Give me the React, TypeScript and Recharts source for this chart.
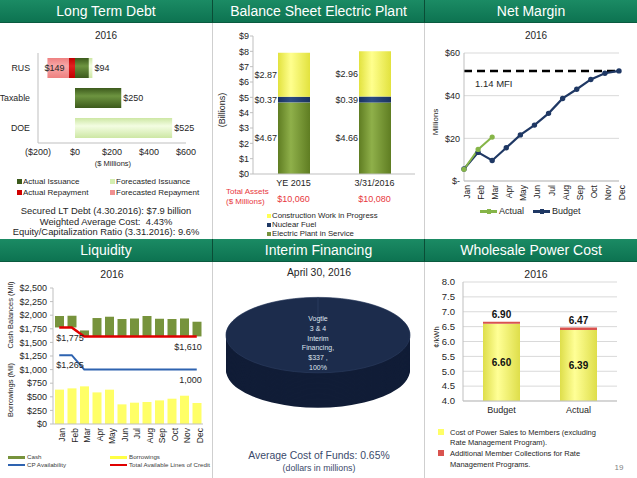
import React from "react";
import {
  BarChart,
  Bar,
  XAxis,
  YAxis,
  LabelList,
  LineChart,
  Line,
  CartesianGrid,
  ReferenceLine,
  ComposedChart,
  PieChart,
  Pie,
} from "recharts";

// ---- Long Term Debt ----
const debtCats = ["RUS", "Taxable", "DOE"];
const actualIssuance = [75, 250, 0];
const forecastIssuance = [19, 0, 525];
const actualRepayment = [-35, 0, 0];
const forecastRepayment = [-114, 0, 0];
const debtTicks = [-200, 0, 200, 400, 600];

// ---- Balance Sheet Electric Plant ----
const plantCats = ["YE 2015", "3/31/2016"];
const plantInService = [4.67, 4.66];
const nuclearFuel = [0.37, 0.39];
const cwip = [2.87, 2.96];
const totalAssets = ["$10,060", "$10,080"];
const plantTicks = [0, 1, 2, 3, 4, 5, 6, 7, 8, 9];

// ---- Net Margin ----
const months = ["Jan", "Feb", "Mar", "Apr", "May", "Jun", "Jul", "Aug", "Sep", "Oct", "Nov", "Dec"];
const marginActual = [5.5, 14.8, 20.6, null, null, null, null, null, null, null, null, null];
const marginBudget = [5.6, 13.4, 9.6, 15.6, 21.6, 26.2, 31.7, 38.7, 43.0, 47.6, 50.5, 51.6];
const mfiTarget = 51.6;
const marginTicks = [0, 20, 40, 60];

// ---- Liquidity ----
const cashBalances = [1985, 1990, 1720, 1948, 1972, 1930, 1940, 1985, 1935, 1930, 1940, 1880];
const creditLines = [1775, 1775, 1610, 1610, 1610, 1610, 1610, 1610, 1610, 1610, 1610, 1610];
const cpAvailability = [1265, 1265, 1000, 1000, 1000, 1000, 1000, 1000, 1000, 1000, 1000, 1000];
const borrowings = [632, 655, 692, 581, 631, 361, 392, 404, 434, 465, 520, 386];
const creditLabels = ["$1,775", "$1,610"];
const cpLabels = ["$1,265", "1,000"];
const liqTicks = [0, 250, 500, 750, 1000, 1250, 1500, 1750, 2000, 2250, 2500];

// ---- Interim Financing ----
const interimNameLines = ["Vogtle", "3 & 4", "Interim", "Financing"];
const interimValues = [337];

// ---- Wholesale Power Cost ----
const powerCats = ["Budget", "Actual"];
const powerCost = [6.6, 6.39];
const rmpCollections = [0.06, 0.08];
const powerTotals = ["6.90", "6.47"];
const powerTicks = [4, 4.5, 5, 5.5, 6, 6.5, 7, 7.5, 8];
const POWER_MIN = 4;

const debtData = debtCats.map((cat, i) => ({
  cat,
  ai: actualIssuance[i],
  fi: forecastIssuance[i],
  ar: actualRepayment[i],
  fr: forecastRepayment[i],
}));
const plantData = plantCats.map((cat, i) => ({
  cat,
  eps: plantInService[i],
  nf: nuclearFuel[i],
  cwip: cwip[i],
  assets: totalAssets[i],
}));
const marginData = months.map((m, i) => ({ m, actual: marginActual[i], budget: marginBudget[i] }));
const liqData = months.map((m, i) => ({
  m,
  cash: cashBalances[i],
  credit: creditLines[i],
  cp: cpAvailability[i],
  borrow: borrowings[i],
}));
const interimData = interimValues.map((v) => ({ name: interimNameLines.join(" "), value: v }));
const powerData = powerCats.map((cat, i) => ({ cat, cost: powerCost[i], rmp: rmpCollections[i] }));

const GRAY_AXIS = "#bfbfbf";
const TXT = "#262626";

function Txt({ x, y, size = 9, color = TXT, anchor = "middle", bold = false, rotate = false, children }: any) {
  const tx = anchor === "middle" ? "-50%" : anchor === "end" ? "-100%" : "0";
  return (
    <div
      style={{
        position: "absolute",
        left: x,
        top: y,
        fontSize: size,
        color,
        fontWeight: bold ? 700 : 400,
        whiteSpace: "pre",
        lineHeight: 1,
        transform: `translate(${tx}, -50%)${rotate ? " rotate(-90deg)" : ""}`,
      }}
    >
      {children}
    </div>
  );
}

function Box({ x, y, w, h, color }: any) {
  return <div style={{ position: "absolute", left: x, top: y, width: w, height: h, background: color }} />;
}

function Header({ x, y, w, title }: any) {
  return (
    <div
      style={{
        position: "absolute",
        left: x,
        top: y,
        width: w,
        height: 23,
        background: "linear-gradient(#1b8b64, #0d7351)",
        borderBottom: "1px solid #0a5a3f",
        borderLeft: x > 0 ? "1px solid #0a4d36" : "none",
        boxSizing: "border-box",
        color: "#fff",
        fontSize: 14,
        lineHeight: "23px",
        textAlign: "center",
      }}
    >
      {title}
    </div>
  );
}

function cylinder(id: string, edge: string, mid: string, vertical = false) {
  return (
    <linearGradient id={id} x1="0" y1="0" x2={vertical ? "0" : "1"} y2={vertical ? "1" : "0"}>
      <stop offset="0%" stopColor={edge} />
      <stop offset="40%" stopColor={mid} />
      <stop offset="100%" stopColor={edge} />
    </linearGradient>
  );
}

const money = (v: number) => (v < 0 ? `($${-v})` : `$${v}`);

function DebtChart() {
  // label on the outermost positive segment of each row
  const posLabel = (series: "ai" | "fi") => (p: any) => {
    const { x, y, width, height, value } = p;
    const i = debtCats.indexOf(value);
    if (i < 0) return null;
    if (series === "ai" && forecastIssuance[i] !== 0) return null;
    const total = actualIssuance[i] + forecastIssuance[i];
    return (
      <text x={x + width + 2} y={y + height / 2} dy="0.35em" fontSize={9} fill={TXT}>
        {`$${total}`}
      </text>
    );
  };
  const negLabel = (p: any) => {
    const { x, y, width, height, value } = p;
    const i = debtCats.indexOf(value);
    if (i < 0) return null;
    const total = -(actualRepayment[i] + forecastRepayment[i]);
    if (!total) return null;
    const left = Math.min(x, x + width);
    return (
      <text x={left - 3} y={y + height / 2} dy="0.35em" fontSize={9} fill={TXT}>
        {`$${total}`}
      </text>
    );
  };
  return (
    <div style={{ position: "absolute", left: 0, top: 45 }}>
      <BarChart
        layout="vertical"
        width={212}
        height={115}
        data={debtData}
        stackOffset="sign"
        barSize={20}
        margin={{ top: 8, right: 26, bottom: 0, left: 0 }}
      >
        <defs>
          {cylinder("ltdDark", "#3c5a1c", "#6d9440", true)}
          {cylinder("ltdLight", "#cde7a4", "#f3fde2", true)}
          {cylinder("ltdRed", "#c00000", "#e02020", true)}
          {cylinder("ltdPink", "#ee8080", "#f7a8a8", true)}
        </defs>
        <XAxis
          type="number"
          domain={[-200, 600]}
          ticks={debtTicks}
          tickFormatter={money}
          tick={{ fontSize: 9, fill: TXT }}
          tickLine={false}
          tickSize={4}
          axisLine={{ stroke: GRAY_AXIS }}
          height={17}
        />
        <YAxis
          type="category"
          dataKey="cat"
          width={38}
          tick={{ fontSize: 8.8, fill: TXT }}
          tickLine={false}
          axisLine={{ stroke: GRAY_AXIS }}
        />
        <Bar dataKey="ai" stackId="s" fill="url(#ltdDark)" isAnimationActive={false}>
          <LabelList dataKey="cat" content={posLabel("ai")} />
        </Bar>
        <Bar dataKey="fi" stackId="s" fill="url(#ltdLight)" isAnimationActive={false}>
          <LabelList dataKey="cat" content={posLabel("fi")} />
        </Bar>
        <Bar dataKey="ar" stackId="s" fill="url(#ltdRed)" isAnimationActive={false} />
        <Bar dataKey="fr" stackId="s" fill="url(#ltdPink)" isAnimationActive={false}>
          <LabelList dataKey="cat" content={negLabel} />
        </Bar>
      </BarChart>
    </div>
  );
}

function PlantChart() {
  const sideLabel = (arr: number[]) => (p: any) => {
    const { x, y, height, value } = p;
    const i = plantCats.indexOf(value);
    if (i < 0) return null;
    return (
      <text x={x - 1} y={y + height / 2} dy="0.35em" textAnchor="end" fontSize={9} fill={TXT}>
        {`$${arr[i].toFixed(2)}`}
      </text>
    );
  };
  return (
    <div style={{ position: "absolute", left: 212, top: 28 }}>
      <BarChart
        width={212}
        height={180}
        data={plantData}
        barSize={32}
        margin={{ top: 8, right: 9, bottom: 0, left: 0 }}
      >
        <defs>
          {cylinder("bsGreen", "#5f7d22", "#8fb04a")}
          {cylinder("bsNavy", "#1a3260", "#2e4d85")}
          {cylinder("bsYellow", "#e2e23e", "#ffff8e")}
        </defs>
        <XAxis
          dataKey="cat"
          tick={{ fontSize: 9, fill: TXT }}
          tickLine={false}
          tickSize={4}
          axisLine={{ stroke: GRAY_AXIS }}
          height={20}
        />
        <XAxis
          xAxisId="assets"
          dataKey="assets"
          tick={{ fontSize: 9, fill: "#e8383d" }}
          tickLine={false}
          tickSize={0}
          axisLine={false}
          height={14}
        />
        <YAxis
          domain={[0, 9]}
          ticks={plantTicks}
          interval={0}
          tickFormatter={(v) => `$${v}`}
          tick={{ fontSize: 9, fill: TXT }}
          tickSize={3}
          tickMargin={1}
          tickLine={{ stroke: GRAY_AXIS }}
          axisLine={{ stroke: GRAY_AXIS }}
          width={41}
        />
        <Bar dataKey="eps" stackId="p" fill="url(#bsGreen)" isAnimationActive={false}>
          <LabelList dataKey="cat" content={sideLabel(plantInService)} />
        </Bar>
        <Bar dataKey="nf" stackId="p" fill="url(#bsNavy)" isAnimationActive={false}>
          <LabelList dataKey="cat" content={sideLabel(nuclearFuel)} />
        </Bar>
        <Bar dataKey="cwip" stackId="p" fill="url(#bsYellow)" isAnimationActive={false}>
          <LabelList dataKey="cat" content={sideLabel(cwip)} />
        </Bar>
      </BarChart>
    </div>
  );
}

function MarginChart() {
  return (
    <div style={{ position: "absolute", left: 424, top: 45 }}>
      <LineChart width={213} height={165} data={marginData} margin={{ top: 8, right: 18, bottom: 0, left: 0 }}>
        <CartesianGrid vertical={false} stroke="#d9d9d9" />
        <XAxis
          dataKey="m"
          interval={0}
          tick={{ fontSize: 8.5, fill: TXT, angle: -90, textAnchor: "end", verticalAnchor: "middle" } as any}
          tickLine={false}
          tickSize={0}
          tickMargin={4}
          axisLine={{ stroke: GRAY_AXIS }}
          height={29}
        />
        <YAxis
          domain={[0, 60]}
          ticks={marginTicks}
          interval={0}
          tickFormatter={(v) => (v === 0 ? "$-" : `$${v}`)}
          tick={{ fontSize: 9, fill: TXT }}
          tickLine={false}
          tickSize={2}
          tickMargin={2}
          axisLine={{ stroke: GRAY_AXIS }}
          width={40}
        />
        <ReferenceLine
          segment={[
            { x: "Jan", y: mfiTarget },
            { x: "Dec", y: mfiTarget },
          ]}
          stroke="#000"
          strokeWidth={2.5}
          strokeDasharray="8 5"
        />
        <Line
          dataKey="budget"
          stroke="#1f3864"
          strokeWidth={2.2}
          dot={{ r: 1.6, fill: "#1f3864", stroke: "#1f3864" }}
          isAnimationActive={false}
        />
        <Line
          dataKey="actual"
          stroke="#86b548"
          strokeWidth={2}
          dot={{ r: 1.6, fill: "#86b548", stroke: "#86b548" }}
          isAnimationActive={false}
        />
      </LineChart>
    </div>
  );
}

function LiquidityChart() {
  const endLabels = (labels: string[]) => (p: any) => {
    const { x, y, index } = p;
    const last = months.length - 1;
    if (index !== 0 && index !== last) return null;
    return (
      <text
        x={index === 0 ? x - 3 : x + 5}
        y={y + 10}
        dy="0.35em"
        textAnchor={index === 0 ? "start" : "end"}
        fontSize={9}
        fill={TXT}
      >
        {index === 0 ? labels[0] : labels[1]}
      </text>
    );
  };
  return (
    <div style={{ position: "absolute", left: 0, top: 280 }}>
      <ComposedChart width={212} height={172} data={liqData} margin={{ top: 8, right: 9, bottom: 0, left: 0 }}>
        <XAxis
          xAxisId="a"
          dataKey="m"
          interval={0}
          tick={{ fontSize: 8.5, fill: TXT, angle: -90, textAnchor: "end", verticalAnchor: "middle" } as any}
          tickLine={false}
          tickSize={0}
          tickMargin={4}
          axisLine={{ stroke: GRAY_AXIS }}
          height={28}
        />
        <XAxis xAxisId="b" dataKey="m" hide />
        <YAxis
          domain={[0, 2500]}
          ticks={liqTicks}
          interval={0}
          tickFormatter={(v) => `$${v.toLocaleString("en-US")}`}
          tick={{ fontSize: 9, fill: TXT }}
          tickSize={3}
          tickMargin={3}
          tickLine={{ stroke: GRAY_AXIS }}
          axisLine={{ stroke: GRAY_AXIS }}
          width={53}
        />
        <Bar
          xAxisId="a"
          dataKey={(d: any) => [d.credit, d.cash]}
          barSize={9}
          fill="#77933c"
          isAnimationActive={false}
        />
        <Bar xAxisId="b" dataKey="borrow" barSize={9} fill="#ffff66" isAnimationActive={false} />
        <Line
          xAxisId="a"
          dataKey="cp"
          stroke="#2e63b0"
          strokeWidth={2}
          dot={false}
          isAnimationActive={false}
        >
          <LabelList content={endLabels(cpLabels)} />
        </Line>
        <Line
          xAxisId="a"
          dataKey="credit"
          stroke="#e00000"
          strokeWidth={2.5}
          dot={false}
          isAnimationActive={false}
        >
          <LabelList content={endLabels(creditLabels)} />
        </Line>
      </ComposedChart>
    </div>
  );
}

function InterimChart() {
  // elliptical disc: stack of pies squashed vertically
  const layers: number[] = [];
  for (let cy = 195; cy > 110; cy -= 3) layers.push(cy);
  const total = interimValues.reduce((a, b) => a + b, 0);
  const lines = [
    ...interimNameLines.slice(0, -1),
    `${interimNameLines[interimNameLines.length - 1]},`,
    `$${interimValues[0]} ,`,
    `${Math.round((interimValues[0] / total) * 100)}%`,
  ];
  return (
    <>
      <div
        style={{
          position: "absolute",
          left: 218,
          top: 290,
          width: 200,
          height: 292,
          transform: "scaleY(0.41)",
          transformOrigin: "top left",
        }}
      >
        <PieChart width={200} height={292} margin={{ top: 0, right: 0, bottom: 0, left: 0 }}>
          {layers.map((cy) => (
            <Pie
              key={cy}
              data={interimData}
              dataKey="value"
              cx={100}
              cy={cy}
              outerRadius={92}
              startAngle={90}
              endAngle={-270}
              fill="#111d37"
              stroke="none"
              isAnimationActive={false}
            />
          ))}
          <Pie
            data={interimData}
            dataKey="value"
            cx={100}
            cy={110}
            outerRadius={92}
            startAngle={90}
            endAngle={-270}
            fill="#1c2c4c"
            stroke="#2a3a5c"
            isAnimationActive={false}
          />
        </PieChart>
      </div>
      {lines.map((t, i) => (
        <Txt key={i} x={318} y={318 + i * 9.8} size={7} color="#dfe4ee">
          {t}
        </Txt>
      ))}
    </>
  );
}

function PowerChart() {
  const midLabel = (p: any) => {
    const { x, y, width, height, value } = p;
    const i = powerCats.indexOf(value);
    if (i < 0) return null;
    return (
      <text x={x + width / 2} y={y + height / 2} dy="0.35em" textAnchor="middle" fontSize={10} fontWeight={700} fill="#111">
        {powerCost[i].toFixed(2)}
      </text>
    );
  };
  const topLabel = (p: any) => {
    const { x, y, width, value } = p;
    const i = powerCats.indexOf(value);
    if (i < 0) return null;
    return (
      <text x={x + width / 2} y={y - 4} textAnchor="middle" fontSize={10} fontWeight={700} fill="#111">
        {powerTotals[i]}
      </text>
    );
  };
  return (
    <div style={{ position: "absolute", left: 424, top: 274 }}>
      <BarChart width={213} height={145} data={powerData} margin={{ top: 8, right: 20, bottom: 0, left: 0 }}>
        <defs>{cylinder("wpYellow", "#dede4a", "#ffff96")}</defs>
        <CartesianGrid vertical={false} stroke="#d9d9d9" />
        <XAxis
          xAxisId="a"
          dataKey="cat"
          tick={{ fontSize: 9, fill: TXT }}
          tickLine={false}
          tickSize={4}
          axisLine={{ stroke: GRAY_AXIS }}
          height={18}
        />
        <XAxis xAxisId="b" dataKey="cat" hide />
        <YAxis
          domain={[POWER_MIN, 8]}
          ticks={powerTicks}
          interval={0}
          allowDataOverflow
          tickFormatter={(v) => v.toFixed(1)}
          tick={{ fontSize: 9.5, fill: TXT }}
          tickLine={false}
          tickSize={4}
          tickMargin={4}
          axisLine={{ stroke: GRAY_AXIS }}
          width={39}
        />
        <Bar
          xAxisId="a"
          dataKey={(d: any) => [POWER_MIN, d.cost]}
          barSize={37}
          fill="url(#wpYellow)"
          isAnimationActive={false}
        >
          <LabelList dataKey="cat" content={midLabel} />
        </Bar>
        <Bar
          xAxisId="b"
          dataKey={(d: any) => [d.cost, d.cost + d.rmp]}
          barSize={37}
          fill="#d9534f"
          isAnimationActive={false}
        >
          <LabelList dataKey="cat" content={topLabel} />
        </Bar>
      </BarChart>
    </div>
  );
}

function LineSwatch({ x, y, color, marker = false }: any) {
  return (
    <>
      <Box x={x} y={y - 1} w={17} h={2.5} color={color} />
      {marker && <Box x={x + 7} y={y - 2} w={3.5} h={4.5} color={color} />}
    </>
  );
}

export default function App() {
  return (
    <div
      style={{
        position: "absolute",
        left: 0,
        top: 0,
        width: 637,
        height: 478,
        background: "#fff",
        overflow: "hidden",
        fontFamily: "'Liberation Sans', Arial, sans-serif",
      }}
    >
      {/* dividers */}
      <Box x={212} y={0} w={1} h={478} color="#cfcfcf" />
      <Box x={424} y={0} w={1} h={478} color="#cfcfcf" />

      {/* headers */}
      <Header x={0} y={0} w={212} title="Long Term Debt" />
      <Header x={212} y={0} w={212} title="Balance Sheet Electric Plant" />
      <Header x={424} y={0} w={213} title="Net Margin" />
      <Header x={0} y={239} w={212} title="Liquidity" />
      <Header x={212} y={239} w={212} title="Interim Financing" />
      <Header x={424} y={239} w={213} title="Wholesale Power Cost" />

      {/* Long Term Debt */}
      <Txt x={106} y={36} size={10}>2016</Txt>
      <DebtChart />
      <Txt x={113} y={164} size={7.5}>($ Millions)</Txt>
      <Box x={17} y={179} w={5} h={5} color="#3c5a1c" />
      <Txt x={23} y={181.5} size={8} anchor="start">Actual Issuance</Txt>
      <Box x={110} y={179} w={5} h={5} color="#d4eeb0" />
      <Txt x={116} y={181.5} size={8} anchor="start">Forecasted Issuance</Txt>
      <Box x={17} y={190} w={5} h={5} color="#d00000" />
      <Txt x={23} y={192.5} size={8} anchor="start">Actual Repayment</Txt>
      <Box x={110} y={190} w={5} h={5} color="#f09090" />
      <Txt x={116} y={192.5} size={8} anchor="start">Forecasted Repayment</Txt>
      <Txt x={106} y={211} size={9.4}>Secured LT Debt (4.30.2016): $7.9 billion</Txt>
      <Txt x={106} y={222} size={9.4}>Weighted Average Cost:  4.43%</Txt>
      <Txt x={106} y={232} size={9.4}>Equity/Capitalization Ratio (3.31.2016): 9.6%</Txt>

      {/* Balance Sheet */}
      <PlantChart />
      <Txt x={222} y={110} size={9} rotate>(Billions)</Txt>
      <Txt x={226} y={192} size={8} anchor="start" color="#e8383d">Total Assets</Txt>
      <Txt x={226} y={202} size={8} anchor="start" color="#e8383d">($ Millions)</Txt>
      <Box x={267} y={214} w={4} h={4} color="#ffff55" />
      <Txt x={272} y={216} size={7.8} anchor="start">Construction Work in Progress</Txt>
      <Box x={267} y={223} w={4} h={4} color="#1f3864" />
      <Txt x={272} y={225} size={7.8} anchor="start">Nuclear Fuel</Txt>
      <Box x={267} y={232} w={4} h={4} color="#77933c" />
      <Txt x={272} y={234} size={7.8} anchor="start">Electric Plant in Service</Txt>

      {/* Net Margin */}
      <Txt x={536} y={36} size={10}>2016</Txt>
      <MarginChart />
      <Txt x={436} y={122} size={8} rotate>Millions</Txt>
      <Txt x={475} y={84} size={9.5} anchor="start">1.14 MFI</Txt>
      <LineSwatch x={480} y={211} color="#86b548" marker />
      <Txt x={499} y={211} size={9} anchor="start">Actual</Txt>
      <LineSwatch x={533} y={211} color="#1f3864" marker />
      <Txt x={552} y={211} size={9} anchor="start">Budget</Txt>

      {/* Liquidity */}
      <Txt x={112} y={274} size={10.5}>2016</Txt>
      <LiquidityChart />
      <Txt x={11} y={315} size={7.5} rotate>Cash Balances (Mil)</Txt>
      <Txt x={11} y={390} size={7.5} rotate>Borrowings (Mil)</Txt>
      <LineSwatch x={8} y={457} color="#77933c" />
      <Txt x={27} y={457} size={6.2} anchor="start" color="#404040">Cash</Txt>
      <LineSwatch x={110} y={457} color="#ffff44" />
      <Txt x={129} y={457} size={6.2} anchor="start" color="#404040">Borrowings</Txt>
      <LineSwatch x={8} y={464.5} color="#2e63b0" />
      <Txt x={27} y={464.5} size={6.2} anchor="start" color="#404040">CP Availability</Txt>
      <LineSwatch x={110} y={464.5} color="#e00000" />
      <Txt x={129} y={464.5} size={6.2} anchor="start" color="#404040">Total Available Lines of Credit</Txt>

      {/* Interim Financing */}
      <Txt x={319} y={273} size={10.4}>April 30, 2016</Txt>
      <InterimChart />
      <Txt x={319} y={456} size={10.4} color="#3b4a6b">Average Cost of Funds: 0.65%</Txt>
      <Txt x={319} y={468} size={8.8} color="#3b4a6b">(dollars in millions)</Txt>

      {/* Wholesale Power Cost */}
      <Txt x={536} y={274} size={10.5}>2016</Txt>
      <PowerChart />
      <Txt x={437} y={337} size={7.5} rotate>¢/kWh</Txt>
      <Box x={438} y={429} w={6} h={6} color="#ffff66" />
      <Txt x={450} y={433} size={7.5} anchor="start">Cost of Power Sales to Members (excluding</Txt>
      <Txt x={450} y={443} size={7.5} anchor="start">Rate Management Program).</Txt>
      <Box x={438} y={450} w={6} h={6} color="#d9534f" />
      <Txt x={450} y={454} size={7.5} anchor="start">Additional Member Collections for Rate</Txt>
      <Txt x={450} y={465} size={7.5} anchor="start">Management Programs.</Txt>
      <Txt x={619} y={468} size={8} color="#7f7f7f">19</Txt>
    </div>
  );
}
